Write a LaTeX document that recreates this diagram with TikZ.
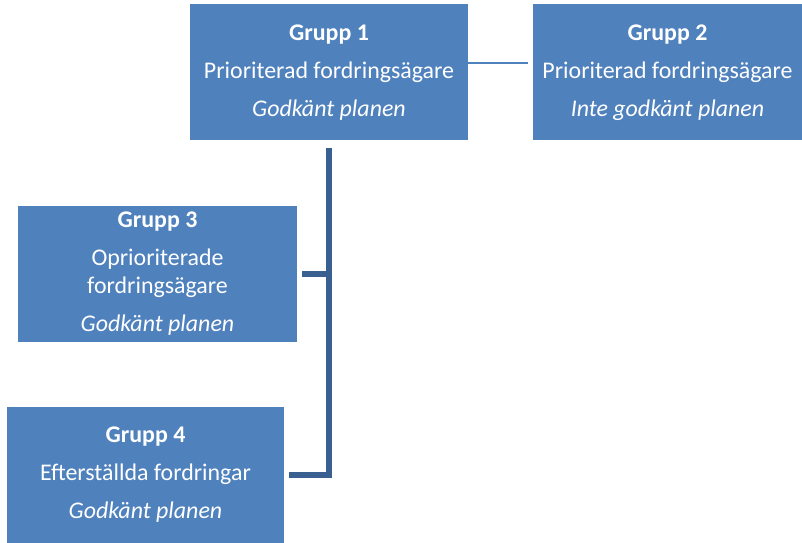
\documentclass[tikz,border=0pt]{standalone}
\usepackage{fontspec}
\setmainfont{Carlito}
\usetikzlibrary{calc}

\definecolor{boxblue}{RGB}{79,129,189}
\definecolor{linkblue}{RGB}{58,96,145}

\begin{document}
\begin{tikzpicture}[line width=0.7pt,
    grp/.style={fill=boxblue, text=white, align=center, inner sep=0pt,
      minimum height=3.4cm, font=\fontsize{17}{20}\selectfont},
    trunk/.style={linkblue, line width=4.3pt},
    thinlink/.style={boxblue, line width=1.3pt}]
          \useasboundingbox (0,0) rectangle (20.05,13.575);

          % the four groups
          \node[grp, minimum width=6.95cm] (g1) at (8.225,11.7625)
            {\textbf{Grupp 1}\\[7pt] Prioriterad fordringsägare\\[7pt] \textit{Godkänt planen}};
          \node[grp, minimum width=6.725cm] (g2) at (16.6875,11.7625)
            {\textbf{Grupp 2}\\[7pt] Prioriterad fordringsägare\\[7pt] \textit{Inte godkänt planen}};
          \node[grp, minimum width=6.975cm] (g3) at (3.9375,6.725)
            {\textbf{Grupp 3}\\[7pt] Oprioriterade\\ fordringsägare\\[7pt] \textit{Godkänt planen}};
          \node[grp, minimum width=6.925cm] (g4) at (3.6375,1.7)
            {\textbf{Grupp 4}\\[7pt] Efterställda fordringar\\[7pt] \textit{Godkänt planen}};

          % connectors
          \draw[thinlink, shorten >=0.125cm] ([yshift=0.24cm]g1.east) -- ([yshift=0.24cm]g1.east -| g2.west);
          \draw[trunk] ([yshift=-0.17cm]g1.south) -- (g1.south |- g4.east) -- ([xshift=0.12cm]g4.east);
          \draw[trunk] (g1.south |- g3.east) -- ([xshift=0.12cm]g3.east);
        \end{tikzpicture}
\end{document}
